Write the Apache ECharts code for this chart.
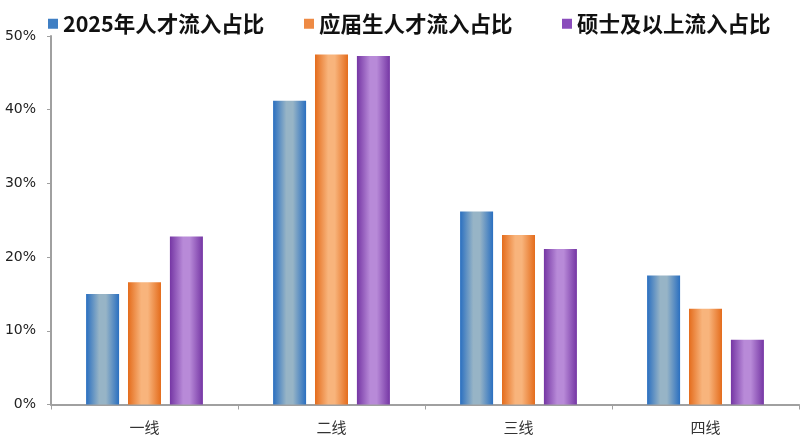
<!DOCTYPE html>
<html>
<head>
<meta charset="utf-8">
<script src="https://cdn.jsdelivr.net/npm/echarts@6/dist/echarts.min.js"></script>
<style>html,body{margin:0;padding:0;background:#fff;}#c{width:800px;height:443px;}</style>
</head>
<body>
<div id="c"></div>
<script>
var categories = ['一线', '二线', '三线', '四线'];
var seriesNames = ['2025年人才流入占比', '应届生人才流入占比', '硕士及以上流入占比'];
var talent2025 = [15.0, 41.2, 26.2, 17.5];
var graduates = [16.6, 47.5, 23.0, 13.0];
var masters = [22.8, 47.3, 21.1, 8.8];
var yTicks = [0, 10, 20, 30, 40, 50];

function grad(edge, mid) {
  return new echarts.graphic.LinearGradient(0, 0, 1, 0, [
    {offset: 0, color: edge},
    {offset: 0.4, color: mid},
    {offset: 0.6, color: mid},
    {offset: 1, color: edge}
  ]);
}
var colors = [
  grad('#2a6fc0', '#97b4c6'),
  grad('#e46c1c', '#f8b47c'),
  grad('#7536a4', '#b88ad8')
];
var legendColors = ['#3f7fc4', '#ee8a44', '#8a4cbc'];
var legendLefts = [43, 299, 557];
var data = [talent2025, graduates, masters];

var chart = echarts.init(document.getElementById('c'));
chart.setOption({
  animation: false,
  backgroundColor: '#fff',
  legend: seriesNames.map(function (n, i) {
    return {
      left: legendLefts[i], top: 8,
      itemWidth: 10, itemHeight: 10,
      icon: 'rect',
      selectedMode: false,
      textStyle: {fontFamily: 'Noto Sans CJK SC', fontWeight: 'bold', fontSize: 21.5, color: '#111'},
      data: [{name: n, itemStyle: {color: legendColors[i]}}]
    };
  }),
  grid: {left: 51, right: 1, top: 36, bottom: 38.5},
  xAxis: {
    type: 'category',
    data: categories,
    axisLine: {lineStyle: {color: '#a0a0a0', width: 2}},
    axisTick: {show: true, length: 5, lineStyle: {color: '#a0a0a0'}},
    axisLabel: {margin: 15, fontSize: 15, color: '#333', fontFamily: 'Noto Sans CJK SC'}
  },
  yAxis: {
    type: 'value',
    min: yTicks[0], max: yTicks[yTicks.length - 1], interval: 10,
    splitLine: {show: false},
    axisLine: {show: true, lineStyle: {color: '#a0a0a0', width: 2}},
    axisTick: {show: true, length: 4, lineStyle: {color: '#a0a0a0'}},
    axisLabel: {margin: 15, fontSize: 14, color: '#222', fontFamily: 'DejaVu Sans', formatter: '{value}%'}
  },
  series: seriesNames.map(function (n, i) {
    return {
      name: n, type: 'bar', data: data[i],
      barWidth: 33, barGap: '27%',
      itemStyle: {color: colors[i]}
    };
  })
});
</script>
</body>
</html>
